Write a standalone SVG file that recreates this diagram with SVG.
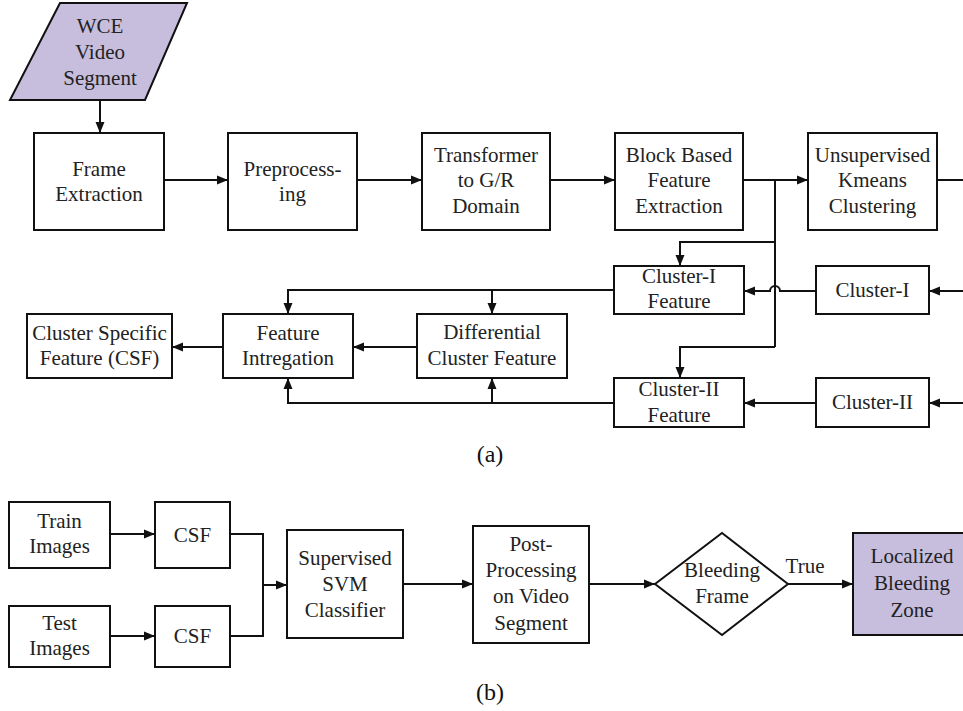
<svg xmlns="http://www.w3.org/2000/svg" width="963" height="711" viewBox="0 0 963 711">
<defs>
<marker id="ah" markerUnits="userSpaceOnUse" markerWidth="12" markerHeight="10" refX="11" refY="5" orient="auto">
<path d="M0,0.5 L11,5 L0,9.5 z" fill="#111"/>
</marker>
<style>
.b{fill:#fff;stroke:#111;stroke-width:2}
.p{fill:#c7bedd;stroke:#111;stroke-width:2}
.t{font-family:"Liberation Serif","Times New Roman",serif;font-size:21px;fill:#222;text-anchor:middle}
.c{fill:none;stroke:#111;stroke-width:2}
.a{fill:none;stroke:#111;stroke-width:2;marker-end:url(#ah)}
.cap{font-family:"Liberation Serif","DejaVu Serif",serif;font-size:24px;fill:#111;text-anchor:middle}
</style>
</defs>
<rect width="963" height="711" fill="#fff"/>

<g id="wce"><polygon class="p" points="60,3 187,3 145,100 10,100"/>
<text class="t" x="100" y="33">WCE</text><text class="t" x="100" y="59">Video</text><text class="t" x="100" y="85">Segment</text></g>
<g id="frame"><rect class="b" x="34" y="133" width="130" height="97"/>
<text class="t" x="99" y="176">Frame</text><text class="t" x="99" y="201">Extraction</text></g>
<g id="pre"><rect class="b" x="228" y="133" width="129" height="97"/>
<text class="t" x="292.5" y="176">Preprocess-</text><text class="t" x="292.5" y="201">ing</text></g>
<g id="trans"><rect class="b" x="422" y="133" width="128" height="97"/>
<text class="t" x="486" y="162">Transformer</text><text class="t" x="486" y="187">to G/R</text><text class="t" x="486" y="213">Domain</text></g>
<g id="block"><rect class="b" x="615" y="133" width="128" height="97"/>
<text class="t" x="679" y="162">Block Based</text><text class="t" x="679" y="187">Feature</text><text class="t" x="679" y="213">Extraction</text></g>
<g id="unsup"><rect class="b" x="808" y="133" width="129" height="97"/>
<text class="t" x="872.5" y="162">Unsupervised</text><text class="t" x="872.5" y="187">Kmeans</text><text class="t" x="872.5" y="213">Clustering</text></g>

<g id="c1f"><rect class="b" x="614" y="266" width="130" height="48"/>
<text class="t" x="679" y="283">Cluster-I</text><text class="t" x="679" y="308">Feature</text></g>
<g id="c1"><rect class="b" x="816" y="266" width="113" height="48"/>
<text class="t" x="872.5" y="297">Cluster-I</text></g>
<g id="c2f"><rect class="b" x="614" y="378" width="130" height="49"/>
<text class="t" x="679" y="396">Cluster-II</text><text class="t" x="679" y="422">Feature</text></g>
<g id="c2"><rect class="b" x="816" y="378" width="113" height="49"/>
<text class="t" x="872.5" y="409">Cluster-II</text></g>
<g id="diff"><rect class="b" x="417" y="314" width="150" height="64"/>
<text class="t" x="492" y="339">Differential</text><text class="t" x="492" y="365">Cluster Feature</text></g>
<g id="fi"><rect class="b" x="223" y="314" width="130" height="64"/>
<text class="t" x="288" y="340">Feature</text><text class="t" x="288" y="365">Intregation</text></g>
<g id="csf"><rect class="b" x="27" y="314" width="145" height="64"/>
<text class="t" x="99.5" y="340">Cluster Specific</text><text class="t" x="99.5" y="365">Feature (CSF)</text></g>
<text class="cap" x="490" y="462">(a)</text>

<g id="train"><rect class="b" x="9" y="502" width="101" height="66"/>
<text class="t" x="59.5" y="528">Train</text><text class="t" x="59.5" y="553">Images</text></g>
<g id="csf1"><rect class="b" x="155" y="502" width="75" height="66"/>
<text class="t" x="192.5" y="542">CSF</text></g>
<g id="test"><rect class="b" x="9" y="606" width="101" height="61"/>
<text class="t" x="59.5" y="630">Test</text><text class="t" x="59.5" y="655">Images</text></g>
<g id="csf2"><rect class="b" x="155" y="606" width="75" height="61"/>
<text class="t" x="192.5" y="643">CSF</text></g>
<g id="svm"><rect class="b" x="287" y="530" width="116" height="108"/>
<text class="t" x="345" y="565">Supervised</text><text class="t" x="345" y="591">SVM</text><text class="t" x="345" y="617">Classifier</text></g>
<g id="post"><rect class="b" x="473" y="526" width="116" height="117"/>
<text class="t" x="531" y="551">Post-</text><text class="t" x="531" y="577">Processing</text><text class="t" x="531" y="603">on Video</text><text class="t" x="531" y="630">Segment</text></g>
<g id="bleed"><polygon class="b" points="655,584 722,533 788,584 722,635"/>
<text class="t" x="722" y="577">Bleeding</text><text class="t" x="722" y="603">Frame</text></g>
<g id="zone"><rect class="p" x="853" y="533" width="120" height="102"/>
<text class="t" x="912" y="563">Localized</text><text class="t" x="912" y="590">Bleeding</text><text class="t" x="912" y="617">Zone</text></g>
<text class="cap" x="490" y="700">(b)</text>

<g id="connectors">
<path class="a" d="M100,100 V133"/>
<path class="a" d="M164,180 H228"/>
<path class="a" d="M357,180 H422"/>
<path class="a" d="M550,180 H615"/>
<path class="a" d="M743,180 H808"/>
<path class="c" d="M937,180 H963"/>
<path class="c" d="M775,180 V347"/>
<path class="a" d="M775,242 H680 V266"/>
<path class="a" d="M775,347 H680 V378"/>
<path class="a" d="M963,291 H929"/>
<path class="a" d="M963,403 H929"/>
<path class="a" d="M816,291 H780 A5,5 0 0 0 770,291 H744"/>
<path class="a" d="M816,403 H744"/>
<path class="a" d="M614,290 H288 V314"/>
<path class="a" d="M492,290 V314"/>
<path class="a" d="M614,403 H288 V378"/>
<path class="a" d="M492,403 V378"/>
<path class="a" d="M417,347 H353"/>
<path class="a" d="M223,347 H172"/>
<path class="a" d="M110,534 H155"/>
<path class="a" d="M110,636 H155"/>
<path class="c" d="M230,534 H263 V636 H230"/>
<path class="a" d="M263,585 H287"/>
<path class="a" d="M403,584 H473"/>
<path class="a" d="M589,584 H655"/>
<path class="a" d="M788,584 H853"/>
<text class="t" x="805" y="573">True</text>
</g>
</svg>
